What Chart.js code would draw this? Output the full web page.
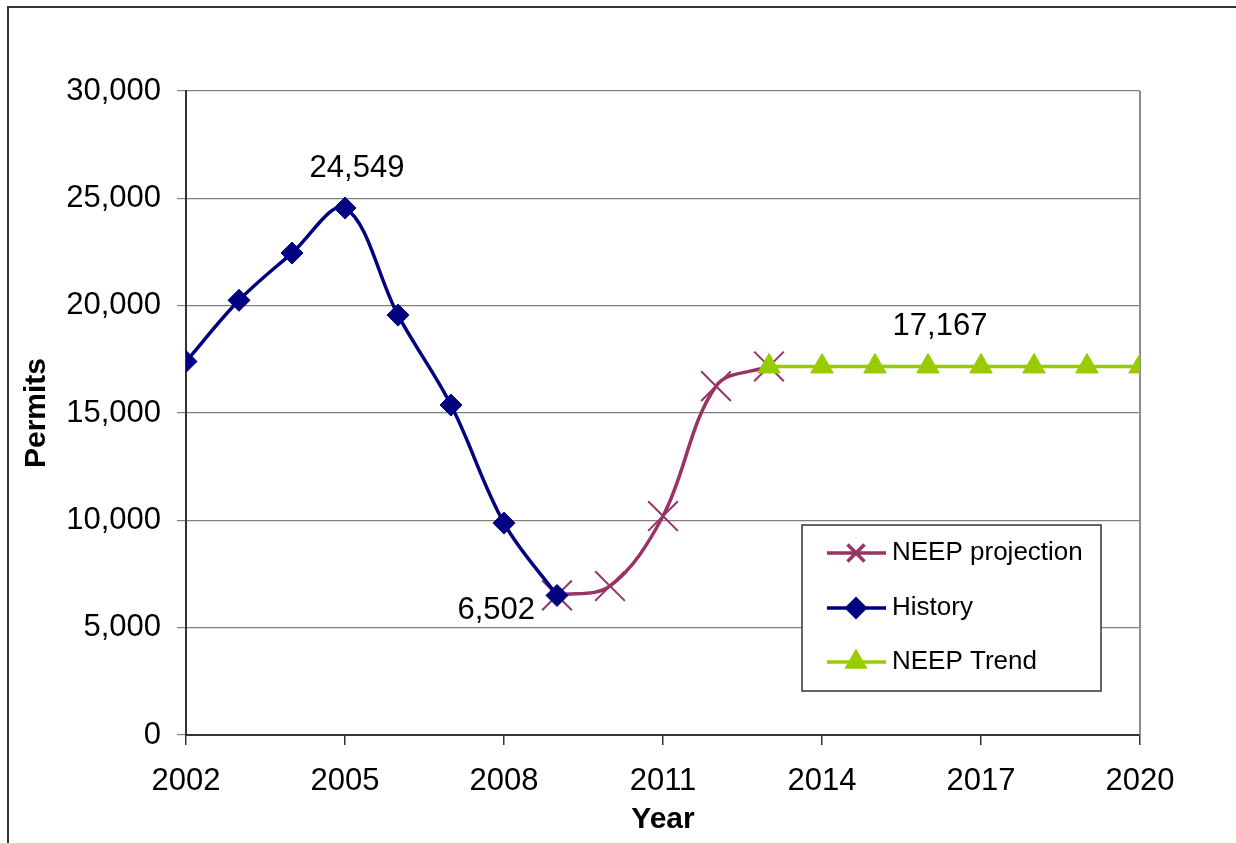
<!DOCTYPE html>
<html>
<head>
<meta charset="utf-8">
<script src="https://cdn.jsdelivr.net/npm/chart.js@4.4.0/dist/chart.umd.min.js"></script>
<style>
html, body { margin: 0; padding: 0; background: #fff; }
#wrap { width: 1236px; height: 843px; }
</style>
</head>
<body>
<div id="wrap"><canvas id="chart" width="1236" height="843"></canvas></div>
<script>
// Data

const historyYears = [2002, 2003, 2004, 2005, 2006, 2007, 2008, 2009];
const historyValues = [17400, 20250, 22450, 24549, 19560, 15370, 9870, 6502];

const projectionYears = [2009, 2010, 2011, 2012, 2013];
const projectionValues = [6502, 6940, 10200, 16250, 17167];

const trendYears = [2013, 2014, 2015, 2016, 2017, 2018, 2019, 2020];
const trendValues = [17167, 17167, 17167, 17167, 17167, 17167, 17167, 17167];

const xTickValues = [2002, 2005, 2008, 2011, 2014, 2017, 2020];
const yTickValues = [0, 5000, 10000, 15000, 20000, 25000, 30000];

// value labels written on the chart
const noteTexts = ['24,549', '6,502', '17,167'];
const noteYears = [2005, 2009, 2016];
const noteValues = [24549, 6502, 17167];

const seriesNames = ['NEEP projection', 'History', 'NEEP Trend'];

const colProjection = '#993366';
const colHistory = '#000080';
const colTrend = '#99cc00';

const toPoints = (xs, ys) => xs.map((x, i) => ({ x: x, y: ys[i] }));

const FONT = '"Liberation Sans", Arial, sans-serif';

// Plugins

const framePlugin = {
    id: 'frame',
    beforeDraw(chart) {
        const ctx = chart.ctx;
        ctx.save();
        ctx.fillStyle = '#fff';
        ctx.fillRect(0, 0, chart.width, chart.height);
        ctx.strokeStyle = '#333';
        ctx.lineWidth = 2;
        ctx.beginPath();
        ctx.moveTo(8, chart.height);
        ctx.lineTo(8, 7);
        ctx.lineTo(chart.width, 7);
        ctx.stroke();
        ctx.restore();
    },
    beforeDatasetsDraw(chart) {
        // right edge of the plot area
        const a = chart.chartArea;
        const ctx = chart.ctx;
        ctx.save();
        ctx.strokeStyle = '#8c8c8c';
        ctx.lineWidth = 2;
        ctx.beginPath();
        ctx.moveTo(a.right, a.top);
        ctx.lineTo(a.right, a.bottom);
        ctx.stroke();
        ctx.restore();
    }
};

const notesPlugin = {
    id: 'notes',
    afterDatasetsDraw(chart) {
        const ctx = chart.ctx;
        const xs = chart.scales.x;
        const ys = chart.scales.y;
        ctx.save();
        ctx.font = '31px ' + FONT;
        ctx.fillStyle = '#000';
        ctx.textBaseline = 'middle';
        noteTexts.forEach((t, i) => {
            const px = xs.getPixelForValue(noteYears[i]);
            const py = ys.getPixelForValue(noteValues[i]);
            if (i === 1) {
                ctx.textAlign = 'right';
                ctx.fillText(t, px - 22, py + 15);
            } else {
                ctx.textAlign = 'center';
                ctx.fillText(t, px + 12, py - 40);
            }
        });
        ctx.restore();
    }
};

const legendPlugin = {
    id: 'boxLegend',
    afterDraw(chart) {
        const ctx = chart.ctx;
        const bx = 802, by = 525, bw = 299, bh = 166;
        ctx.save();
        ctx.fillStyle = '#fff';
        ctx.fillRect(bx, by, bw, bh);
        ctx.strokeStyle = '#333';
        ctx.lineWidth = 1.5;
        ctx.strokeRect(bx, by, bw, bh);

        const rows = [553, 608, 662];
        const cols = [colProjection, colHistory, colTrend];
        const styles = [
            { pointStyle: 'crossRot', radius: 12, borderWidth: 2, rotation: 0 },
            { pointStyle: 'rectRot', radius: 9, borderWidth: 1, rotation: 0 },
            { pointStyle: 'triangle', radius: 10, borderWidth: 1, rotation: 0 }
        ];
        rows.forEach((y, i) => {
            ctx.strokeStyle = cols[i];
            ctx.fillStyle = cols[i];
            ctx.lineWidth = 3.5;
            ctx.beginPath();
            ctx.moveTo(827, y);
            ctx.lineTo(886, y);
            ctx.stroke();
            Chart.helpers.drawPoint(ctx, styles[i], 856, y);
            ctx.fillStyle = '#000';
            ctx.font = '26px ' + FONT;
            ctx.textAlign = 'left';
            ctx.textBaseline = 'middle';
            ctx.fillText(seriesNames[i], 892, y);
        });
        ctx.restore();
    }
};

// Chart

const ctx = document.getElementById('chart').getContext('2d');

new Chart(ctx, {
    type: 'line',
    data: {
        datasets: [
            {
                label: seriesNames[2],
                data: toPoints(trendYears, trendValues),
                borderColor: colTrend,
                backgroundColor: colTrend,
                borderWidth: 3.5,
                pointStyle: 'triangle',
                pointRadius: 13,
                pointBorderWidth: 1,
                tension: 0
            },
            {
                label: seriesNames[1],
                data: toPoints(historyYears, historyValues),
                borderColor: colHistory,
                backgroundColor: colHistory,
                borderWidth: 3.5,
                pointStyle: 'rectRot',
                pointRadius: 11,
                pointBorderWidth: 1,
                tension: 0.35
            },
            {
                label: seriesNames[0],
                data: toPoints(projectionYears, projectionValues),
                borderColor: colProjection,
                backgroundColor: colProjection,
                borderWidth: 3.5,
                pointStyle: 'crossRot',
                pointRadius: 21,
                pointBorderWidth: 2,
                tension: 0.35
            }
        ]
    },
    options: {
        responsive: false,
        animation: false,
        devicePixelRatio: 1,
        layout: { padding: { left: 0, top: 91, right: 96, bottom: 0 } },
        plugins: {
            legend: { display: false },
            tooltip: { enabled: false }
        },
        scales: {
            x: {
                type: 'linear',
                min: 2002,
                max: 2020,
                afterFit: scale => { scale.height = 108; },
                afterBuildTicks: scale => {
                    scale.ticks = xTickValues.map(v => ({ value: v }));
                },
                ticks: {
                    color: '#000',
                    font: { family: FONT, size: 31 },
                    padding: 18,
                    maxRotation: 0,
                    callback: v => String(v)
                },
                grid: {
                    drawOnChartArea: false,
                    drawTicks: true,
                    tickLength: 10,
                    color: '#333',
                    lineWidth: 1.5
                },
                border: { color: '#333', width: 2 },
                title: {
                    display: true,
                    text: 'Year',
                    color: '#000',
                    font: { family: FONT, size: 30, weight: 'bold' },
                    padding: { top: 0, bottom: 5 }
                }
            },
            y: {
                min: 0,
                max: 30000,
                afterFit: scale => { scale.width = 186; },
                afterBuildTicks: scale => {
                    scale.ticks = yTickValues.map(v => ({ value: v }));
                },
                ticks: {
                    color: '#000',
                    font: { family: FONT, size: 31 },
                    padding: 16,
                    callback: v => v.toLocaleString('en-US')
                },
                grid: {
                    color: '#808080',
                    lineWidth: 1.2,
                    tickLength: 9
                },
                border: { color: '#333', width: 2 },
                title: {
                    display: true,
                    text: 'Permits',
                    color: '#000',
                    font: { family: FONT, size: 30, weight: 'bold' },
                    padding: { top: 19, bottom: 0 }
                }
            }
        }
    },
    plugins: [framePlugin, notesPlugin, legendPlugin]
});
</script>
</body>
</html>
